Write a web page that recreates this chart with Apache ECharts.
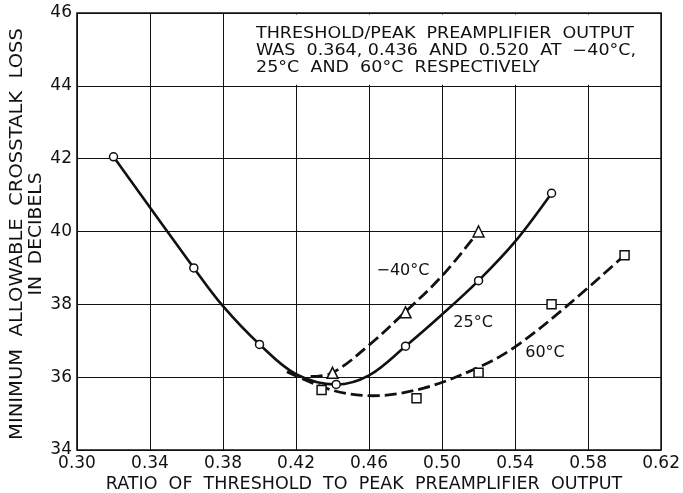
<!DOCTYPE html>
<html>
<head>
<meta charset="utf-8">
<script src="https://cdn.jsdelivr.net/npm/echarts@6/dist/echarts.min.js"></script>
<style>
  html, body { margin: 0; padding: 0; background: #fff; }
  #chart { width: 683px; height: 493px; }
</style>
</head>
<body>
<div id="chart"></div>
<script>
// Axis ranges and ticks
const xTicks = [0.30, 0.34, 0.38, 0.42, 0.46, 0.50, 0.54, 0.58, 0.62];
const yTicks = [34, 36, 38, 40, 42, 44, 46];

// Measured points [ratio, loss dB]
const points25 = [[0.32, 42.05], [0.364, 39.0], [0.40, 36.9], [0.442, 35.8], [0.48, 36.85], [0.52, 38.65], [0.56, 41.05]];
const pointsM40 = [[0.44, 36.12], [0.48, 37.78], [0.52, 40.0]];
const points60 = [[0.434, 35.65], [0.486, 35.42], [0.52, 36.12], [0.56, 38.0], [0.60, 39.35]];

// Faired curves through the measurements
const curve25 = [[0.32, 42.05], [0.364, 39.0], [0.38, 37.95], [0.40, 36.9], [0.42, 36.08], [0.442, 35.8],
  [0.46, 36.05], [0.48, 36.85], [0.50, 37.72], [0.52, 38.65], [0.54, 39.72], [0.56, 41.05]];
const curveM40 = [[0.428, 36.02], [0.44, 36.12], [0.46, 36.88], [0.48, 37.8], [0.50, 38.78], [0.52, 40.0]];
const curve60 = [[0.415, 36.15], [0.44, 35.64], [0.462, 35.49], [0.49, 35.7], [0.52, 36.27], [0.54, 36.83],
  [0.5683, 37.95], [0.60, 39.35]];

// Curve names placed beside each curve
const curveLabels = [
  { name: '\u221240\u00B0C', value: [0.4786, 38.93] },
  { name: '25\u00B0C', value: [0.517, 37.48] },
  { name: '60\u00B0C', value: [0.5564, 36.66] }
];

const noteLines = [
  'THRESHOLD/PEAK  PREAMPLIFIER  OUTPUT',
  'WAS  0.364, 0.436  AND  0.520  AT  \u221240\u00B0C,',
  '25\u00B0C  AND  60\u00B0C  RESPECTIVELY'
];
const xTitle = 'RATIO  OF  THRESHOLD  TO  PEAK  PREAMPLIFIER  OUTPUT';
const yTitle1 = 'MINIMUM  ALLOWABLE  CROSSTALK  LOSS';
const yTitle2 = 'IN  DECIBELS';

const FONT = 'DejaVu Sans';
const INK = '#111';

const chart = echarts.init(document.getElementById('chart'), null, { renderer: 'canvas' });

const markerStyle = { color: '#fff', borderColor: INK, borderWidth: 1.5, opacity: 1 };
const dash = [12, 5];

chart.setOption({
  backgroundColor: '#fff',
  animation: false,
  grid: { left: 77, right: 21, top: 13, bottom: 43, show: true, borderColor: INK, borderWidth: 1.6, backgroundColor: 'transparent' },
  xAxis: {
    type: 'value',
    min: xTicks[0], max: xTicks[xTicks.length - 1], interval: 0.04,
    axisLine: { show: false },
    axisTick: { show: false },
    splitLine: { show: true, lineStyle: { color: INK, width: 1 } },
    axisLabel: { color: INK, fontFamily: FONT, fontSize: 17, margin: 5, formatter: v => v.toFixed(2) }
  },
  yAxis: {
    type: 'value',
    min: yTicks[0], max: yTicks[yTicks.length - 1], interval: 2,
    axisLine: { show: false },
    axisTick: { show: false },
    splitLine: { show: true, lineStyle: { color: INK, width: 1 } },
    axisLabel: { color: INK, fontFamily: FONT, fontSize: 17, margin: 5 }
  },
  graphic: [
    { type: 'text', x: 18, y: 234, rotation: Math.PI / 2, scaleX: 1.15,
      style: { text: yTitle1, fill: INK, font: '17px "' + FONT + '"', textAlign: 'center', textVerticalAlign: 'middle' } },
    { type: 'text', x: 37, y: 234, rotation: Math.PI / 2, scaleX: 1.1,
      style: { text: yTitle2, fill: INK, font: '17px "' + FONT + '"', textAlign: 'center', textVerticalAlign: 'middle' } },
    { type: 'text', x: 364, y: 485, scaleX: 1.03,
      style: { text: xTitle, fill: INK, font: '17px "' + FONT + '"', textAlign: 'center', textVerticalAlign: 'middle' } },
    { type: 'text', x: 256, y: 25, scaleX: 1.13, z: 10,
      style: { text: noteLines.join('\n'), fill: INK, font: '15.5px "' + FONT + '"', lineHeight: 17, textAlign: 'left', textVerticalAlign: 'top' } }
  ],
  series: [
    {
      name: 'note', type: 'line', data: [], silent: true,
      markArea: {
        silent: true,
        itemStyle: { color: '#fff', borderWidth: 0 },
        data: [[{ coord: [0.388, 45.96] }, { coord: [0.6192, 44.03] }]]
      }
    },
    { name: '25curve', type: 'line', data: curve25, smooth: 0.35, symbol: 'none',
      lineStyle: { color: INK, width: 2.6 }, z: 3 },
    { name: 'm40curve', type: 'line', data: curveM40, smooth: 0.35, symbol: 'none',
      lineStyle: { color: INK, width: 2.8, type: dash }, z: 3 },
    { name: '60curve', type: 'line', data: curve60, smooth: 0.35, symbol: 'none',
      lineStyle: { color: INK, width: 2.8, type: dash }, z: 3 },
    { name: '25pts', type: 'scatter', data: points25, symbol: 'circle', symbolSize: 8, itemStyle: markerStyle, z: 5 },
    { name: 'm40pts', type: 'scatter', data: pointsM40, symbol: 'triangle', symbolSize: 11, itemStyle: markerStyle, z: 5 },
    { name: '60pts', type: 'scatter', data: points60, symbol: 'rect', symbolSize: 9, itemStyle: markerStyle, z: 5 },
    {
      name: 'labels', type: 'scatter', data: curveLabels, symbolSize: 0, z: 6, itemStyle: { opacity: 1 },
      label: { show: true, position: 'inside', color: INK, fontFamily: FONT, fontSize: 16, formatter: p => p.name }
    }
  ]
});
</script>
</body>
</html>
